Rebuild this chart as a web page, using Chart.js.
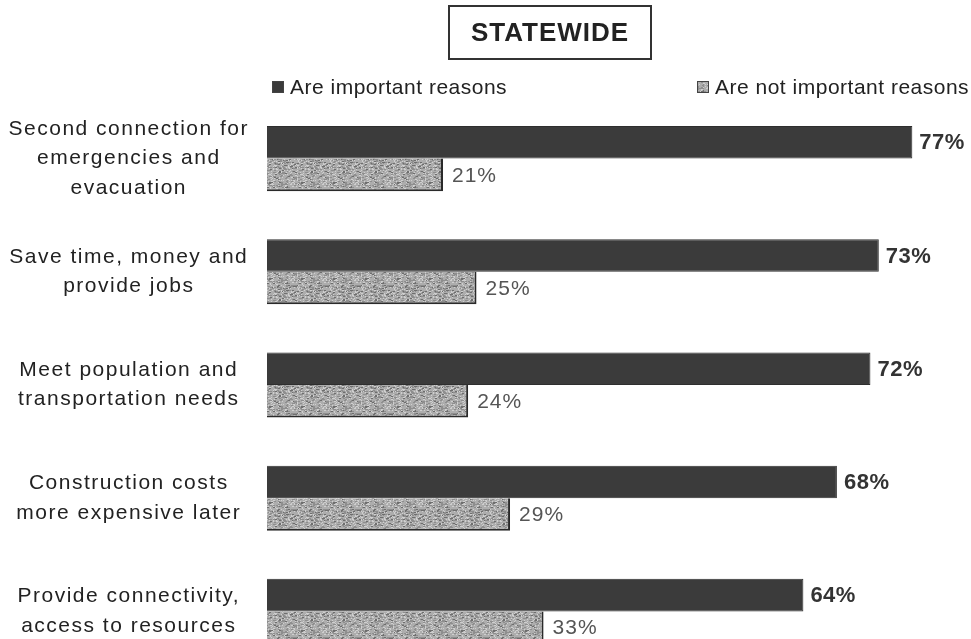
<!DOCTYPE html>
<html>
<head>
<meta charset="utf-8">
<script src="https://cdn.jsdelivr.net/npm/chart.js@4/dist/chart.umd.min.js"></script>
<style>
  html, body { margin: 0; padding: 0; background: #fff; overflow: hidden; }
  canvas { display: block; }
</style>
</head>
<body>
<canvas id="chart" width="971" height="680"></canvas>
<script>
const title = 'STATEWIDE';
const categories = [
  ['Second connection for', 'emergencies and', 'evacuation'],
  ['Save time, money and', 'provide jobs'],
  ['Meet population and', 'transportation needs'],
  ['Construction costs', 'more expensive later'],
  ['Provide connectivity,', 'access to resources']
];
const seriesNames = ['Are important reasons', 'Are not important reasons'];
const important = [77, 73, 72, 68, 64];
const notImportant = [21, 25, 24, 29, 33];

const FONT = '"Liberation Sans", Arial, sans-serif';

// speckled grey fill for the second series
function speckle() {
  const c = document.createElement('canvas');
  c.width = 32; c.height = 32;
  const g = c.getContext('2d');
  g.fillStyle = '#adadad';
  g.fillRect(0, 0, 32, 32);
  for (let y = 0; y < 32; y++) {
    for (let x = 0; x < 32; x++) {
      const h = Math.abs(Math.sin(x * 12.9898 + y * 78.233) * 43758.5453) % 1;
      if (h > 0.8) {
        g.fillStyle = h > 0.94 ? '#6e6e6e' : '#8e8e8e';
        g.fillRect(x, y, 2, 1);
      } else if (h < 0.14) {
        g.fillStyle = '#cfcfcf';
        g.fillRect(x, y, 1, 1);
      }
    }
  }
  return g.createPattern(c, 'repeat');
}

// the labels in this chart are set a little loose
const spacing = {
  id: 'spacing',
  beforeUpdate(chart) { chart.ctx.letterSpacing = '1.5px'; },
  beforeDraw(chart) { chart.ctx.letterSpacing = '1.5px'; }
};

const headerPlugin = {
  id: 'header',
  afterDraw(chart) {
    const ctx = chart.ctx;
    ctx.save();
    ctx.letterSpacing = '1px';
    // boxed title
    ctx.strokeStyle = '#333';
    ctx.lineWidth = 2;
    ctx.strokeRect(449, 6, 202, 53);
    ctx.font = 'bold 26px ' + FONT;
    ctx.fillStyle = '#222';
    ctx.textAlign = 'center';
    ctx.textBaseline = 'middle';
    ctx.fillText(title, 550, 34);

    // legend
    ctx.letterSpacing = '0.5px';
    ctx.font = '21px ' + FONT;
    ctx.textAlign = 'left';
    const xs = [272, 697];
    chart.data.datasets.forEach((ds, i) => {
      const x = xs[i], y = 87;
      ctx.fillStyle = ds.backgroundColor;
      ctx.fillRect(x, y - 6, 12, 12);
      ctx.strokeStyle = '#444';
      ctx.lineWidth = 1;
      ctx.strokeRect(x + 0.5, y - 5.5, 11, 11);
      ctx.fillStyle = '#222';
      ctx.fillText(ds.label, x + 18, y + 1);
    });
    ctx.restore();
  }
};

const valueLabels = {
  id: 'valueLabels',
  afterDatasetsDraw(chart) {
    const ctx = chart.ctx;
    ctx.save();
    ctx.textBaseline = 'middle';
    ctx.textAlign = 'left';
    chart.data.datasets.forEach((ds, i) => {
      const meta = chart.getDatasetMeta(i);
      ctx.letterSpacing = i === 0 ? '0.5px' : '1px';
      ctx.font = (i === 0 ? 'bold 22px ' : '21px ') + FONT;
      ctx.fillStyle = i === 0 ? '#333' : '#555';
      meta.data.forEach((bar, j) => {
        ctx.fillText(ds.data[j] + '%', bar.x + (i === 0 ? 7 : 9), bar.y + 1);
      });
    });
    ctx.restore();
  }
};

new Chart(document.getElementById('chart'), {
  type: 'bar',
  data: {
    labels: categories,
    datasets: [
      {
        label: seriesNames[0],
        data: important,
        backgroundColor: '#3b3b3b',
        borderColor: '#2e2e2e',
        borderWidth: 1
      },
      {
        label: seriesNames[1],
        data: notImportant,
        backgroundColor: speckle(),
        borderColor: '#2a2a2a',
        borderWidth: { top: 0, left: 1, right: 2, bottom: 2 }
      }
    ]
  },
  options: {
    indexAxis: 'y',
    responsive: false,
    animation: false,
    events: [],
    layout: { padding: { top: 102, bottom: 12, left: 0, right: 0 } },
    categoryPercentage: 0.575,
    barPercentage: 1,
    plugins: {
      legend: { display: false },
      title: { display: false },
      tooltip: { enabled: false }
    },
    scales: {
      x: {
        display: false,
        min: 0,
        max: 84
      },
      y: {
        grid: { display: false },
        border: { display: false },
        afterFit(scale) {
          // fixed label column; multi-line labels must not shrink the plot
          scale.width = 267;
          scale.paddingTop = 0;
          scale.paddingBottom = 0;
        },
        ticks: {
          crossAlign: 'center',
          padding: 10,
          color: '#222',
          font: { family: FONT, size: 21, lineHeight: 1.4 }
        }
      }
    }
  },
  plugins: [spacing, headerPlugin, valueLabels]
});
</script>
</body>
</html>
